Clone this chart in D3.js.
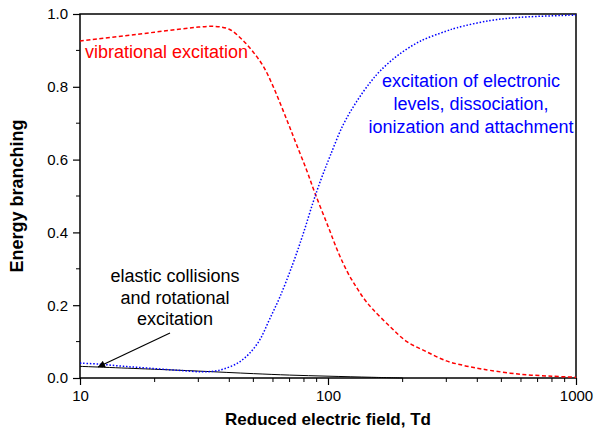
<!DOCTYPE html>
<html>
<head>
<meta charset="utf-8">
<script src="https://cdn.jsdelivr.net/npm/d3@7"></script>
<style>
  html, body { margin: 0; padding: 0; background: #fff; }
  svg { display: block; font-family: "Liberation Sans", Arial, sans-serif; }
</style>
</head>
<body>
<svg id="chart" width="594" height="436"></svg>
<script>
// ---- data ----
const vibField = [10, 15, 20, 25, 30, 35, 40, 45, 50, 55, 60, 65, 70, 75, 82, 88.7, 100, 110, 120, 130, 140, 152, 178, 208, 250, 300, 350, 400, 450, 600, 800, 1000];
const vibValue = [0.926, 0.940, 0.950, 0.958, 0.964, 0.966, 0.958, 0.930, 0.895, 0.855, 0.802, 0.745, 0.690, 0.638, 0.571, 0.507, 0.417, 0.345, 0.290, 0.250, 0.217, 0.188, 0.141, 0.100, 0.072, 0.047, 0.035, 0.027, 0.021, 0.010, 0.005, 0.002];

const elecField = [10, 12, 15, 19, 25, 31, 35, 38, 43, 48, 53, 58, 64, 72, 79.5, 87, 94, 102, 115, 130, 148, 162, 190, 235, 300, 330, 450, 600, 1000];
const elecValue = [0.041, 0.038, 0.032, 0.027, 0.021, 0.017, 0.019, 0.025, 0.040, 0.066, 0.104, 0.160, 0.223, 0.312, 0.397, 0.482, 0.548, 0.610, 0.695, 0.758, 0.812, 0.843, 0.885, 0.925, 0.953, 0.962, 0.982, 0.991, 0.997];

const elasField = [10, 20, 30, 50, 70, 100, 150, 200];
const elasValue = [0.032, 0.024, 0.019, 0.012, 0.008, 0.005, 0.002, 0.0];

const xMajorTicks = [10, 100, 1000];
const xMinorTicks = [20, 30, 40, 50, 60, 70, 80, 90, 200, 300, 400, 500, 600, 700, 800, 900];
const yMajorTicks = [0, 0.2, 0.4, 0.6, 0.8, 1.0];
const yMinorTicks = [0.1, 0.3, 0.5, 0.7, 0.9];

const xTitle = "Reduced electric field, Td";
const yTitle = "Energy branching";
const vibLabel = ["vibrational excitation"];
const elecLabel = ["excitation of electronic", "levels, dissociation,", "ionization and attachment"];
const elasLabel = ["elastic collisions", "and rotational", "excitation"];

// ---- layout ----
const svg = d3.select("#chart");
const L = 80, R = 576, T = 14, B = 378;
const x = d3.scaleLog().domain([10, 1000]).range([L, R]);
const y = d3.scaleLinear().domain([0, 1]).range([B, T]);

// frame
svg.append("rect").attr("x", L).attr("y", T).attr("width", R - L).attr("height", B - T)
  .attr("fill", "none").attr("stroke", "#000").attr("stroke-width", 1.5);

// axes
const xAxis = d3.axisBottom(x).tickValues(xMajorTicks).tickFormat(d3.format("d")).tickSize(7).tickPadding(5);
const gx = svg.append("g").attr("transform", `translate(0,${B})`).call(xAxis);
gx.select(".domain").remove();
gx.append("g").selectAll("line").data(xMinorTicks).join("line")
  .attr("x1", d => x(d)).attr("x2", d => x(d)).attr("y1", 0).attr("y2", 4).attr("stroke", "#000");

const yAxis = d3.axisLeft(y).tickValues(yMajorTicks).tickFormat(d3.format(".1f")).tickSize(7).tickPadding(5);
const gy = svg.append("g").attr("transform", `translate(${L},0)`).call(yAxis);
gy.select(".domain").remove();
gy.append("g").selectAll("line").data(yMinorTicks).join("line")
  .attr("y1", d => y(d)).attr("y2", d => y(d)).attr("x1", 0).attr("x2", -4).attr("stroke", "#000");

svg.selectAll(".tick line").attr("stroke-width", 1.2);
svg.selectAll(".tick text").attr("font-size", 15).attr("font-family", "'Liberation Sans', Arial, sans-serif").attr("fill", "#000");

// titles
svg.append("text").attr("x", 328).attr("y", 425).attr("text-anchor", "middle")
  .attr("font-size", 17).attr("font-weight", "bold").text(xTitle);
svg.append("text").attr("transform", `translate(23,${(T + B) / 2}) rotate(-90)`).attr("text-anchor", "middle")
  .attr("font-size", 18).attr("font-weight", "bold").text(yTitle);

// curves
const line = d3.line().x(d => x(d[0])).y(d => y(d[1])).curve(d3.curveCatmullRom.alpha(0.5));
const plot = svg.append("g");
plot.append("path").datum(elasField.map((f, i) => [f, elasValue[i]]))
  .attr("d", line).attr("fill", "none").attr("stroke", "#000").attr("stroke-width", 1);
plot.append("path").datum(vibField.map((f, i) => [f, vibValue[i]]))
  .attr("d", line).attr("fill", "none").attr("stroke", "#ff0000").attr("stroke-width", 1.5)
  .attr("stroke-dasharray", "4,2.5");
plot.append("path").datum(elecField.map((f, i) => [f, elecValue[i]]))
  .attr("d", line).attr("fill", "none").attr("stroke", "#0000ff").attr("stroke-width", 1.5)
  .attr("stroke-dasharray", "1.5,1.8");

// labels
svg.append("text").attr("x", 85).attr("y", 58).attr("font-size", 18).attr("fill", "#ff0000").text(vibLabel[0]);
svg.append("text").attr("font-size", 18).attr("fill", "#0000ff").attr("text-anchor", "middle")
  .selectAll("tspan").data(elecLabel).join("tspan")
  .attr("x", 471).attr("y", (d, i) => 87 + i * 23).text(d => d);
svg.append("text").attr("font-size", 18).attr("fill", "#000").attr("text-anchor", "middle")
  .selectAll("tspan").data(elasLabel).join("tspan")
  .attr("x", 175).attr("y", (d, i) => 282 + i * 21.5).text(d => d);

// arrow
const defs = svg.append("defs");
defs.append("marker").attr("id", "ah").attr("viewBox", "0 0 10 10").attr("refX", 10).attr("refY", 5)
  .attr("markerWidth", 11).attr("markerHeight", 7).attr("markerUnits", "userSpaceOnUse").attr("orient", "auto")
  .append("path").attr("d", "M0,0 L10,5 L0,10 Z").attr("fill", "#000");
svg.append("line").attr("x1", 170).attr("y1", 333).attr("x2", 98).attr("y2", 367)
  .attr("stroke", "#000").attr("stroke-width", 1.2).attr("marker-end", "url(#ah)");
</script>
</body>
</html>
